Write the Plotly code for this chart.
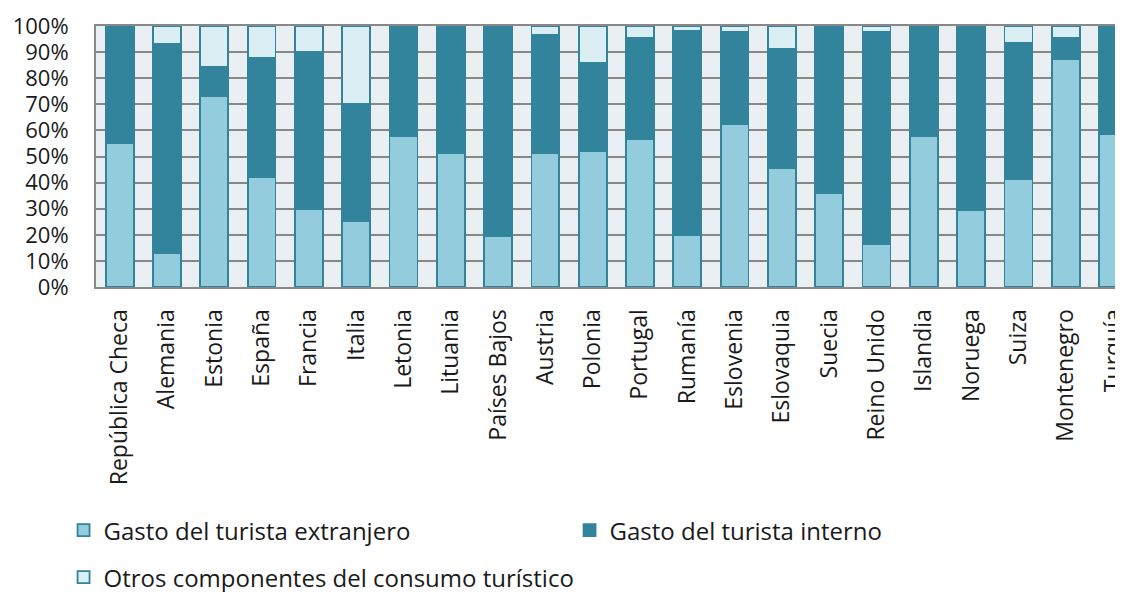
import plotly.graph_objects as go

paises = ["República Checa", "Alemania", "Estonia", "España", "Francia", "Italia",
          "Letonia", "Lituania", "Países Bajos", "Austria", "Polonia", "Portugal",
          "Rumanía", "Eslovenia", "Eslovaquia", "Suecia", "Reino Unido", "Islandia",
          "Noruega", "Suiza", "Montenegro", "Turquía"]

extranjero = [0.55, 0.13, 0.73, 0.423, 0.297, 0.253, 0.579, 0.513, 0.195, 0.513, 0.521, 0.567,
              0.197, 0.624, 0.455, 0.359, 0.164, 0.579, 0.294, 0.413, 0.873, 0.587]
interno = [0.45, 0.80, 0.114, 0.453, 0.602, 0.448, 0.421, 0.487, 0.805, 0.454, 0.338, 0.387,
           0.786, 0.353, 0.457, 0.641, 0.814, 0.421, 0.706, 0.524, 0.081, 0.405]
otros = [0.0, 0.07, 0.156, 0.124, 0.101, 0.299, 0.0, 0.0, 0.0, 0.033, 0.141, 0.046,
         0.017, 0.023, 0.088, 0.0, 0.022, 0.0, 0.0, 0.063, 0.046, 0.008]

series = [
    ("Gasto del turista extranjero", extranjero, "#93CDDD", "legend"),
    ("Gasto del turista interno", interno, "#31849B", "legend"),
    ("Otros componentes del consumo turístico", otros, "#DBEEF4", "legend2"),
]

FONT = "Open Sans, Noto Sans, sans-serif"

fig = go.Figure()
for name, vals, col, lg in series:
    fig.add_trace(go.Bar(
        x=paises, y=vals, name=name, legend=lg,
        marker=dict(color=col, line=dict(color="#31849B", width=1.8)),
    ))

legfont = dict(family=FONT, size=24, color="#1a1a1a")
fig.update_layout(
    width=1115, height=584,
    barmode="stack", bargap=0.41,
    paper_bgcolor="white", plot_bgcolor="#E9EFF2",
    margin=dict(l=88, r=0, t=18, b=305, autoexpand=False),
    font=dict(family=FONT, size=24, color="#1a1a1a"),
    showlegend=True,
    legend=dict(
        orientation="h", x=-0.0316, xanchor="left", y=-0.847, yanchor="top",
        font=legfont, entrywidth=461, entrywidthmode="pixels",
        traceorder="normal", itemwidth=30,
    ),
    legend2=dict(
        orientation="h", x=-0.0316, xanchor="left", y=-1.027, yanchor="top",
        font=legfont, traceorder="normal", itemwidth=30,
    ),
)
fig.update_xaxes(
    type="category", range=[-0.5, 21.21], automargin=False,
    tickangle=-90, ticklabelstandoff=11,
    showline=True, mirror=True, linecolor="#888888", linewidth=2,
    showgrid=False, ticks="",
    tickfont=dict(family=FONT, size=23, color="#1a1a1a"),
)
fig.update_yaxes(
    range=[0, 1], dtick=0.1, tickformat=".0%", automargin=False,
    showgrid=True, gridcolor="#878787", gridwidth=2,
    showline=True, linecolor="#888888", linewidth=2, mirror=False,
    zeroline=False, ticks="", ticklabelstandoff=21,
    tickfont=dict(family=FONT, size=22, color="#1a1a1a"),
)

fig.write_html("out.html")
